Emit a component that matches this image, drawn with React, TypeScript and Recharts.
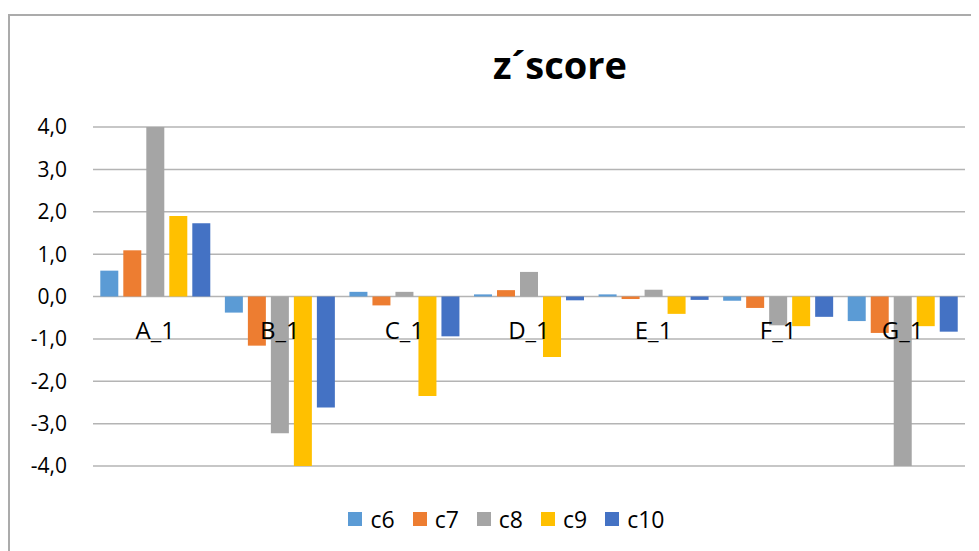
import React from 'react';
import { BarChart, Bar, XAxis, YAxis, CartesianGrid, Legend, ReferenceDot } from 'recharts';

const categories = ['A_1', 'B_1', 'C_1', 'D_1', 'E_1', 'F_1', 'G_1'];
const c6 = [0.61, -0.38, 0.11, 0.05, 0.05, -0.1, -0.58];
const c7 = [1.09, -1.16, -0.21, 0.15, -0.06, -0.27, -0.86];
const c8 = [4.0, -3.23, 0.11, 0.58, 0.16, -0.68, -4.0];
const c9 = [1.9, -4.0, -2.35, -1.43, -0.41, -0.7, -0.7];
const c10 = [1.73, -2.62, -0.94, -0.09, -0.08, -0.48, -0.83];
const yTicks = [-4, -3, -2, -1, 0, 1, 2, 3, 4];

const seriesNames = ['c6', 'c7', 'c8', 'c9', 'c10'];
const seriesValues = [c6, c7, c8, c9, c10];
const seriesColors = ['#5B9BD5', '#ED7D31', '#A5A5A5', '#FFC000', '#4472C4'];

const data = categories.map((cat, i) => {
  const row: any = { cat };
  seriesNames.forEach((n, j) => {
    row[n] = seriesValues[j][i];
  });
  return row;
});

const FONT = '"Open Sans", sans-serif';

const renderLegend = (props: any) => {
  const payload = [...(props.payload || [])].sort(
    (a: any, b: any) => seriesNames.indexOf(a.value) - seriesNames.indexOf(b.value)
  );
  return (
    <div style={{ display: 'flex', justifyContent: 'center', alignItems: 'center', height: 30, paddingLeft: 26, fontFamily: FONT, fontSize: 23, color: '#000' }}>
      {payload.map((p: any, i: number) => (
        <div key={i} style={{ display: 'flex', alignItems: 'center', marginRight: i < payload.length - 1 ? 18 : 0 }}>
          <span style={{ display: 'inline-block', width: 14, height: 14, background: p.color, marginRight: 8 }} />
          <span>{p.value}</span>
        </div>
      ))}
    </div>
  );
};

export default function App() {
  return (
    <div style={{ position: 'relative', width: 971, height: 543, overflow: 'hidden', background: '#fff' }}>
      <div style={{ position: 'absolute', left: 0, top: 6, width: 2000, height: 2000, border: '2px solid #ababab', boxSizing: 'border-box' }} />
      <div style={{ position: 'absolute', left: 0, width: 1104, top: 32, textAlign: 'center', fontFamily: FONT, fontWeight: 700, fontSize: 38, color: '#000', lineHeight: '48px' }}>
        z´score
      </div>
      <div style={{ position: 'absolute', left: 0, top: 0 }}>
        <BarChart width={971} height={543} data={data} margin={{ top: 119, right: 14, left: 25, bottom: 17 }} barCategoryGap={7.3} barGap={5}>
          <CartesianGrid horizontal={true} vertical={false} stroke="#b4b4b4" strokeWidth={1.5} />
          <XAxis dataKey="cat" height={38} tick={false} axisLine={false} tickLine={false} />
          <YAxis
            width={60}
            domain={[-4, 4]}
            ticks={yTicks}
            allowDataOverflow={true}
            axisLine={false}
            tickLine={false}
            tickSize={0}
            tickMargin={26}
            tickFormatter={(v: number) => v.toFixed(1).replace('.', ',')}
            tick={{ fontFamily: FONT, fontSize: 21, fill: '#000' }}
          />
          {seriesNames.map((n, j) => (
            <Bar key={n} dataKey={n} fill={seriesColors[j]} isAnimationActive={false} />
          ))}
          {categories.map((cat) => (
            <ReferenceDot
              key={cat}
              x={cat}
              y={0}
              r={0}
              fill="none"
              stroke="none"
              label={{ value: cat, position: 'bottom', offset: 25, fontFamily: FONT, fontSize: 24, fill: '#000' }}
            />
          ))}
          <Legend verticalAlign="bottom" content={renderLegend} wrapperStyle={{ left: 0, width: 971 }} />
        </BarChart>
      </div>
    </div>
  );
}
